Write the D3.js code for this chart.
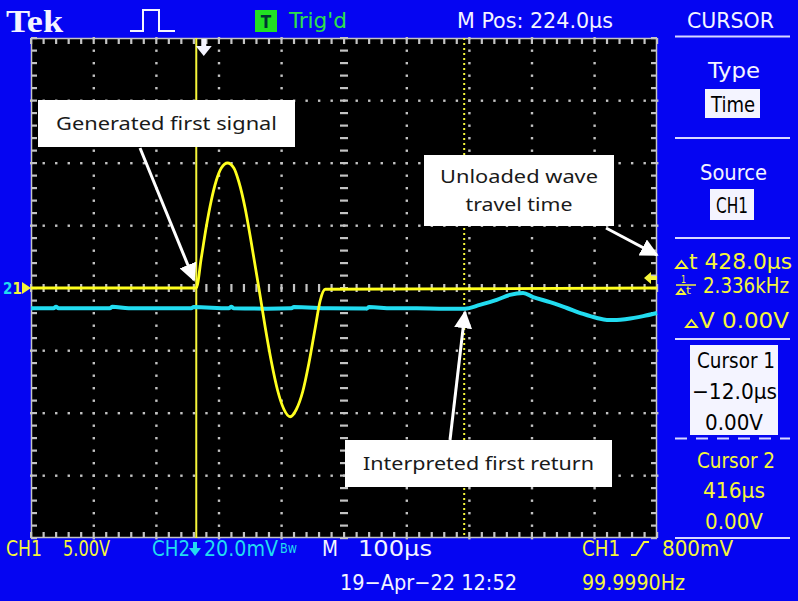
<!DOCTYPE html>
<html>
<head>
<meta charset="utf-8">
<script src="https://cdn.jsdelivr.net/npm/d3@7"></script>
<style>
  html, body { margin: 0; padding: 0; background: #0505f2; }
  svg { display: block; }
</style>
</head>
<body>
<svg id="scope" width="798" height="601"></svg>
<script>
// ---- acquisition settings ----
const timeDomain = [-276, 724];      // µs, 10 divisions at 100 µs/div, centre 224 µs
const ch1Range = [-20, 20];          // V, 8 divisions at 5.00 V/div
const ch2Range = [-80, 80];          // mV, 8 divisions at 20.0 mV/div
const cursorTimes = [-12, 416];      // µs
const triggerTime = 0;               // µs
const triggerLevel = 0.8;            // V

// ---- CH1: generated burst (V) ----
const ch1Time = [-276, -12, -4, 4, 12, 20, 28, 38, 48, 56, 66, 76, 88, 98, 108, 118, 128, 138, 148, 158, 168, 178, 186, 194, 724];
const ch1Volts = [0, 0, 2.4, 4.9, 7.0, 8.6, 9.6, 10.0, 9.6, 8.5, 6.4, 3.6, 0, -3.1, -5.9, -8.2, -9.7, -10.3, -9.7, -8.3, -6.0, -3.2, -1.0, -0.1, 0];

// ---- CH2: received return (mV) ----
const ch2Time = [-276, -240, -236, -232, -180, -150, -146, -120, -60, -20, -16, 40, 44, 48, 100, 140, 144, 200, 260, 264, 300, 340, 380, 417, 441, 468, 489, 510, 526, 553, 580, 606, 628, 644, 660, 676, 702, 724];
const ch2MilliVolts = [-6.5, -6.5, -6.0, -6.5, -6.5, -6.5, -6.0, -6.5, -6.5, -6.5, -6.1, -6.5, -6.0, -6.5, -6.6, -6.5, -6.1, -6.5, -6.6, -6.1, -6.5, -6.5, -6.6, -6.6, -5.4, -3.8, -2.2, -1.6, -2.9, -4.5, -6.4, -8.3, -9.6, -10.2, -10.2, -9.9, -9.0, -8.0];

// ---- readouts ----
const topLabels = { brand: "Tek", trig: "Trig'd", mpos: "M Pos: 224.0µs", menu: "CURSOR" };
const menuLabels = ["Type", "Time", "Source", "CH1"];
const cursorReadout = { dt: "428.0µs", freq: "2.336kHz", dv: "0.00V" };
const cursor1Lines = ["Cursor 1", "−12.0µs", "0.00V"];
const cursor2Lines = ["Cursor 2", "416µs", "0.00V"];
const bottomLabels = { ch1: "CH1", ch1Scale: "5.00V", ch2: "CH2", ch2Scale: "20.0mV", bw: "Bw",
  m: "M", timebase: "100µs", date: "19−Apr−22 12:52", trigSrc: "CH1", trigLvl: "800mV", freq: "99.9990Hz" };
const notes = [
  { lines: ["Generated first signal"], widths: [221], box: [38, 100, 257, 47], from: [140, 148], to: [194, 280] },
  { lines: ["Unloaded wave", "travel time"], widths: [158, 107], box: [424, 155, 190, 71], from: [606, 228], to: [657, 255] },
  { lines: ["Interpreted first return"], widths: [231], box: [345, 440, 267, 47], from: [450, 440], to: [465, 312] }
];

// ---- palette ----
const WHITE = "#f4f4ff", YELLOW = "#f6f63a", CYAN = "#22dcf0", GRID = "#c4c4c4";
const scopeFont = "'DejaVu Sans Condensed','Liberation Sans Narrow','DejaVu Sans',sans-serif";

const svg = d3.select("#scope");
svg.append("rect").attr("width", 798).attr("height", 601).attr("fill", "#0505f2");

// plot geometry
const plot = { left: 31, right: 657, top: 38, bottom: 538 };
const x = d3.scaleLinear().domain(timeDomain).range([plot.left, plot.right]);
const y1 = d3.scaleLinear().domain(ch1Range).range([plot.bottom, plot.top]);
const y2 = d3.scaleLinear().domain(ch2Range).range([plot.bottom, plot.top]);

svg.append("rect").attr("x", plot.left).attr("y", plot.top)
  .attr("width", plot.right - plot.left).attr("height", plot.bottom - plot.top).attr("fill", "#000");

// ---- graticule ----
const grat = svg.append("g");
const xDiv = d3.range(11).map(i => timeDomain[0] + i * 100);
const yDiv = d3.range(9).map(i => ch1Range[0] + i * 5);
const xMinor = d3.range(0, 51).map(i => timeDomain[0] + i * 20);
const yMinor = d3.range(0, 41).map(i => ch1Range[0] + i);
const xMid = (timeDomain[0] + timeDomain[1]) / 2, yMid = 0;

// dotted division lines
xDiv.slice(1, -1).filter(t => t !== xMid).forEach(t => {
  yMinor.forEach(v => grat.append("rect").attr("x", x(t) - 1).attr("y", y1(v) - 1).attr("width", 2.4).attr("height", 2.4).attr("fill", GRID));
});
yDiv.slice(1, -1).filter(v => v !== yMid).forEach(v => {
  xMinor.forEach(t => grat.append("rect").attr("x", x(t) - 1).attr("y", y1(v) - 1).attr("width", 2.4).attr("height", 2.4).attr("fill", GRID));
});
// centre lines with minor ticks
yMinor.forEach(v => grat.append("rect").attr("x", x(xMid) - 4).attr("y", y1(v) - 1).attr("width", 8).attr("height", 2.2).attr("fill", GRID));
xMinor.forEach(t => grat.append("rect").attr("x", x(t) - 1).attr("y", y1(yMid) - 4).attr("width", 2.2).attr("height", 8).attr("fill", GRID));
// frame with inward ticks
grat.append("rect").attr("x", plot.left + 0.5).attr("y", plot.top + 0.5)
  .attr("width", plot.right - plot.left - 1).attr("height", plot.bottom - plot.top - 1)
  .attr("fill", "none").attr("stroke", GRID).attr("stroke-width", 1.5);
xMinor.forEach(t => {
  grat.append("rect").attr("x", x(t) - 1).attr("y", plot.top).attr("width", 2.2).attr("height", 6).attr("fill", GRID);
  grat.append("rect").attr("x", x(t) - 1).attr("y", plot.bottom - 6).attr("width", 2.2).attr("height", 6).attr("fill", GRID);
});
yMinor.forEach(v => {
  grat.append("rect").attr("x", plot.left).attr("y", y1(v) - 1).attr("width", 6).attr("height", 2.2).attr("fill", GRID);
  grat.append("rect").attr("x", plot.right - 6).attr("y", y1(v) - 1).attr("width", 6).attr("height", 2.2).attr("fill", GRID);
});

// ---- cursors ----
svg.append("line").attr("x1", x(cursorTimes[0])).attr("x2", x(cursorTimes[0]))
  .attr("y1", plot.top).attr("y2", plot.bottom).attr("stroke", YELLOW).attr("stroke-width", 2);
svg.append("line").attr("x1", x(cursorTimes[1])).attr("x2", x(cursorTimes[1]))
  .attr("y1", plot.top).attr("y2", plot.bottom).attr("stroke", YELLOW).attr("stroke-width", 2)
  .attr("stroke-dasharray", "2,3");

// ---- traces ----
const ch1 = ch1Time.map((t, i) => [t, ch1Volts[i]]);
const ch2 = ch2Time.map((t, i) => [t, ch2MilliVolts[i]]);
svg.append("path").datum(ch2)
  .attr("d", d3.line().x(d => x(d[0])).y(d => y2(d[1])).curve(d3.curveMonotoneX))
  .attr("fill", "none").attr("stroke", CYAN).attr("stroke-width", 4);
svg.append("path").datum(ch1)
  .attr("d", d3.line().x(d => x(d[0])).y(d => y1(d[1])).curve(d3.curveMonotoneX))
  .attr("fill", "none").attr("stroke", "#ffff1e").attr("stroke-width", 2.8).attr("stroke-linejoin", "round");

// ---- markers ----
const tx = x(triggerTime);
svg.append("path").attr("d", `M${tx - 2.5},${plot.top + 1}h5v7h5.5l-8,10l-8,-10h5.5z`).attr("fill", WHITE);
const ty = y1(triggerLevel);
svg.append("path").attr("d", `M${plot.right - 13},${ty}l7,-6v4h6v4h-6v4z`).attr("fill", YELLOW);
// ground reference for CH2 / CH1
const gy = y1(0);
const gnd = svg.append("text").attr("x", 3).attr("y", gy + 5.5).attr("font-family", scopeFont)
  .attr("font-size", 15).attr("font-weight", "bold");
gnd.append("tspan").attr("fill", CYAN).text("2");
gnd.append("tspan").attr("fill", YELLOW).text("1");
svg.append("path").attr("d", `M${plot.left},${gy}l-9,-6v12z`).attr("fill", YELLOW);

// ---- text helper ----
function label(x0, y0, s, o = {}) {
  const t = svg.append("text").attr("x", x0).attr("y", y0).text(s)
    .attr("font-family", o.family || scopeFont).attr("font-size", o.size || 21)
    .attr("fill", o.fill || WHITE);
  if (o.len) t.attr("textLength", o.len).attr("lengthAdjust", "spacingAndGlyphs");
  if (o.anchor) t.attr("text-anchor", o.anchor);
  if (o.weight) t.attr("font-weight", o.weight);
  return t;
}

// ---- top bar ----
label(6, 32, topLabels.brand, { family: "'Liberation Serif','DejaVu Serif',serif", size: 32, weight: "bold", len: 57 });
svg.append("path").attr("d", "M130,31H143V10H159V31H175").attr("fill", "none").attr("stroke", WHITE).attr("stroke-width", 2);
svg.append("rect").attr("x", 255).attr("y", 10).attr("width", 22).attr("height", 22).attr("fill", "#22e022");
label(266, 28, "T", { size: 17, fill: "#033", anchor: "middle", weight: "bold" });
label(289, 28, topLabels.trig, { fill: "#2ee04a", len: 58 });
label(457, 28, topLabels.mpos, { len: 156 });
label(687, 28, topLabels.menu, { len: 87 });
svg.append("line").attr("x1", 675).attr("x2", 790).attr("y1", 36.5).attr("y2", 36.5).attr("stroke", "#d8d8ff").attr("stroke-width", 2);

// ---- side menu ----
const sep = (yy, dash) => svg.append("line").attr("x1", 675).attr("x2", 790).attr("y1", yy).attr("y2", yy)
  .attr("stroke", "#d8d8ff").attr("stroke-width", 2).attr("stroke-dasharray", dash || null);
const P = 22;
label(708, 78, menuLabels[0], { len: 52, size: P });
svg.append("rect").attr("x", 705).attr("y", 89).attr("width", 55).attr("height", 29).attr("fill", WHITE);
label(711, 112, menuLabels[1], { fill: "#000", len: 44, size: P });
sep(138);
label(700, 180, menuLabels[2], { len: 67, size: P });
svg.append("rect").attr("x", 710).attr("y", 189).attr("width", 44).attr("height", 31).attr("fill", WHITE);
label(716, 213, menuLabels[3], { fill: "#000", len: 32, size: P });
sep(238);

// delta readouts
const delta = (x0, yb, w, h) => svg.append("path")
  .attr("d", `M${x0},${yb}l${w / 2},-${h}l${w / 2},${h}z`).attr("fill", "none").attr("stroke", YELLOW).attr("stroke-width", 1.8);
delta(676, 268, 11, 7);
label(689, 269, "t " + cursorReadout.dt, { fill: YELLOW, len: 103, size: P });
label(681, 283, "1", { fill: YELLOW, size: 11, len: 5 });
svg.append("line").attr("x1", 676).attr("x2", 696).attr("y1", 285).attr("y2", 285).attr("stroke", YELLOW).attr("stroke-width", 1.5);
delta(677, 294, 8, 5);
label(686, 294, "t", { fill: YELLOW, size: 11, len: 5 });
label(703, 293, cursorReadout.freq, { fill: YELLOW, len: 86, size: P });
delta(686, 327, 11, 7);
label(699, 328, "V " + cursorReadout.dv, { fill: YELLOW, len: 90, size: P });
sep(339);

svg.append("rect").attr("x", 690).attr("y", 345).attr("width", 88).attr("height", 90).attr("fill", WHITE);
label(697, 368, cursor1Lines[0], { fill: "#000", len: 78, size: P });
label(692, 399, cursor1Lines[1], { fill: "#000", len: 85, size: P });
label(705, 430, cursor1Lines[2], { fill: "#000", len: 58, size: P });
sep(438.5, "12,9");
label(697, 468, cursor2Lines[0], { fill: YELLOW, len: 78, size: P });
label(703, 498, cursor2Lines[1], { fill: YELLOW, len: 62, size: P });
label(705, 529, cursor2Lines[2], { fill: YELLOW, len: 58, size: P });
sep(538);

// ---- bottom bar ----
label(6, 556, bottomLabels.ch1, { fill: YELLOW, len: 36 });
label(63, 556, bottomLabels.ch1Scale, { fill: YELLOW, len: 47 });
label(152, 556, bottomLabels.ch2, { fill: CYAN, len: 38 });
svg.append("path").attr("d", "M193,542h4v6h4l-6,8l-6,-8h4z").attr("fill", CYAN);
label(204, 556, bottomLabels.ch2Scale, { fill: CYAN, len: 74 });
label(280, 553, bottomLabels.bw, { fill: CYAN, size: 14, len: 17 });
label(322, 556, bottomLabels.m, { len: 16 });
label(358, 556, bottomLabels.timebase, { len: 74 });
label(340, 590, bottomLabels.date, { len: 177 });
label(582, 556, bottomLabels.trigSrc, { fill: YELLOW, len: 38 });
svg.append("path").attr("d", "M631,555h5l8,-13h5").attr("fill", "none").attr("stroke", YELLOW).attr("stroke-width", 2);
label(662, 556, bottomLabels.trigLvl, { fill: YELLOW, len: 71 });
label(582, 590, bottomLabels.freq, { fill: YELLOW, len: 103 });

// ---- callouts ----
const defs = svg.append("defs");
defs.append("marker").attr("id", "head").attr("viewBox", "0 0 10 10").attr("refX", 9).attr("refY", 5)
  .attr("markerWidth", 6).attr("markerHeight", 6).attr("orient", "auto")
  .append("path").attr("d", "M0,0L10,5L0,10z").attr("fill", "#fff");
notes.forEach(n => {
  svg.append("line").attr("x1", n.from[0]).attr("y1", n.from[1]).attr("x2", n.to[0]).attr("y2", n.to[1])
    .attr("stroke", "#fff").attr("stroke-width", 3).attr("marker-end", "url(#head)");
  const [bx, by, bw, bh] = n.box;
  svg.append("rect").attr("x", bx).attr("y", by).attr("width", bw).attr("height", bh).attr("fill", "#fff");
  const lh = 28, top = by + bh / 2 - (n.lines.length - 1) * lh / 2;
  n.lines.forEach((s, i) => label(bx + bw / 2 - n.widths[i] / 2, top + i * lh + 6, s,
    { family: "'Noto Sans','Open Sans',sans-serif", size: 18.5, fill: "#1a1a1a", len: n.widths[i] }));
});
</script>
</body>
</html>
